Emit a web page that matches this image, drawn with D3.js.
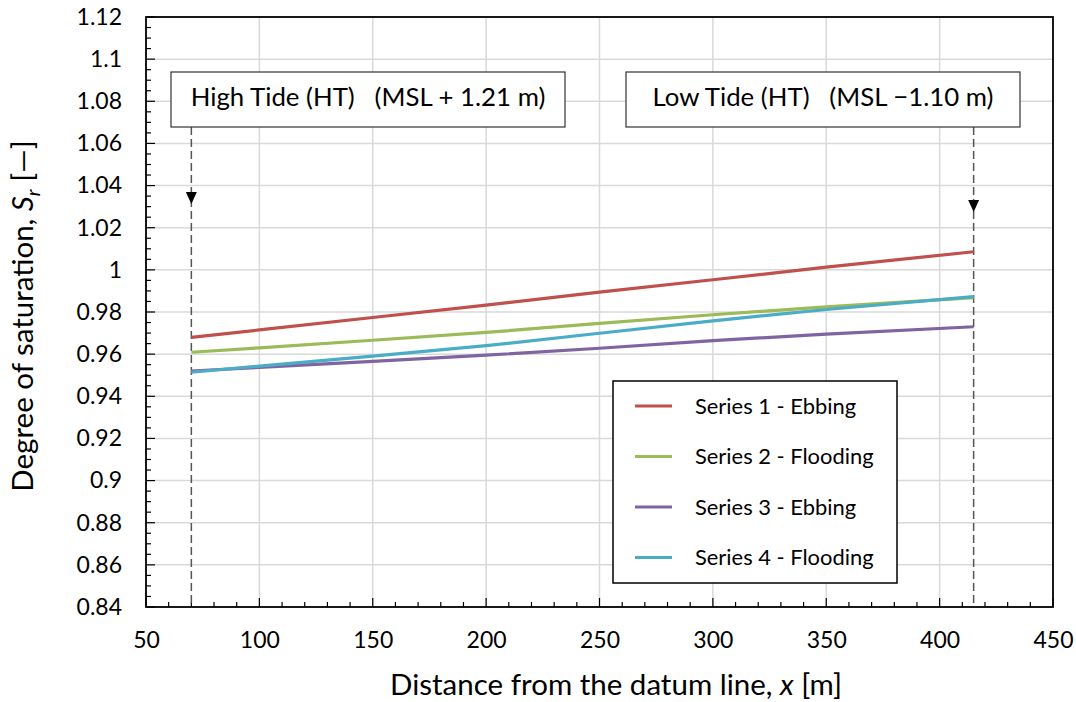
<!DOCTYPE html>
<html>
<head>
<meta charset="utf-8">
<script src="https://cdn.jsdelivr.net/npm/d3@7"></script>
<style>
  body { margin: 0; background: #fff; }
  svg { display: block; }
  text { font-family: Lato, "DejaVu Sans", sans-serif; fill: #000; }
</style>
</head>
<body>
<svg id="chart" width="1076" height="702"></svg>
<script>
// Distance along the section [m]
const distances = [70, 100, 150, 200, 250, 300, 350, 415];

// Degree of saturation for each series
const series1Ebbing   = [0.9680, 0.9715, 0.9774, 0.9833, 0.9894, 0.9953, 1.0013, 1.0086];
const series2Flooding = [0.9609, 0.9630, 0.9666, 0.9703, 0.9746, 0.9787, 0.9824, 0.9868];
const series3Ebbing   = [0.9520, 0.9537, 0.9566, 0.9595, 0.9628, 0.9664, 0.9695, 0.9730];
const series4Flooding = [0.9514, 0.9543, 0.9591, 0.9640, 0.9699, 0.9758, 0.9812, 0.9873];

const seriesNames = ["Series 1 - Ebbing", "Series 2 - Flooding", "Series 3 - Ebbing", "Series 4 - Flooding"];
const seriesColors = ["#C0504D", "#9BBB59", "#8064A2", "#4BACC6"];

const xTicks = [50, 100, 150, 200, 250, 300, 350, 400, 450];
const yTicks = [0.84, 0.86, 0.88, 0.9, 0.92, 0.94, 0.96, 0.98, 1, 1.02, 1.04, 1.06, 1.08, 1.1, 1.12];

// Tide markers: position and label
const tidePositions = [70, 415];
const tideLabels = ["High Tide (HT)   (MSL + 1.21 m)", "Low Tide (HT)   (MSL \u22121.10 m)"];
const tideArrowTips = [1.0313, 1.0275];

const svg = d3.select("#chart");
const plotL = 146, plotR = 1053, plotT = 17, plotB = 607;

const x = d3.scaleLinear().domain([50, 450]).range([plotL, plotR]);
const y = d3.scaleLinear().domain([0.84, 1.12]).range([plotB, plotT]);

// Gridlines
const grid = svg.append("g");
grid.selectAll("line.gx").data(xTicks.slice(1, -1)).join("line")
  .attr("x1", d => x(d)).attr("x2", d => x(d))
  .attr("y1", plotT).attr("y2", plotB)
  .attr("stroke", "#d9d9d9").attr("stroke-width", 1.5);
grid.selectAll("line.gy").data(yTicks.slice(1, -1)).join("line")
  .attr("y1", d => y(d)).attr("y2", d => y(d))
  .attr("x1", plotL).attr("x2", plotR)
  .attr("stroke", "#d9d9d9").attr("stroke-width", 1.5);

// Inward minor and major ticks
const ticksG = svg.append("g").attr("stroke", "#000").attr("stroke-width", 1.2);
const xMinor = d3.range(50, 451, 10);
ticksG.selectAll("line.xt").data(xMinor).join("line")
  .attr("x1", d => x(d)).attr("x2", d => x(d))
  .attr("y1", plotB).attr("y2", d => plotB - (d % 50 === 0 ? 9 : 5));
const yMinor = d3.range(0, 57).map(i => 0.84 + i * 0.005);
ticksG.selectAll("line.yt").data(yMinor).join("line")
  .attr("y1", d => y(d)).attr("y2", d => y(d))
  .attr("x1", plotL).attr("x2", (d, i) => plotL + (i % 4 === 0 ? 9 : 5));

// Axes labels via d3 axes (tick lines hidden)
const xAxis = svg.append("g").attr("transform", `translate(0,${plotB})`)
  .call(d3.axisBottom(x).tickValues(xTicks).tickSize(0).tickPadding(25).tickFormat(d3.format("d")));
xAxis.select(".domain").remove();
xAxis.selectAll("text").style("font-size", "23px").style("font-family", "Lato, sans-serif");

const yAxis = svg.append("g").attr("transform", `translate(${plotL},0)`)
  .call(d3.axisLeft(y).tickValues(yTicks).tickSize(0).tickPadding(24).tickFormat(d => String(+d.toFixed(2))));
yAxis.select(".domain").remove();
yAxis.selectAll("text").style("font-size", "23px").style("font-family", "Lato, sans-serif");

// Tide dashed markers
tidePositions.forEach((p, i) => {
  svg.append("line")
    .attr("x1", x(p)).attr("x2", x(p))
    .attr("y1", 127).attr("y2", plotB)
    .attr("stroke", "#555").attr("stroke-width", 1.5)
    .attr("stroke-dasharray", "8,4");
  const tip = y(tideArrowTips[i]);
  svg.append("path")
    .attr("d", `M${x(p) - 5.5},${tip - 12} L${x(p) + 5.5},${tip - 12} L${x(p)},${tip} Z`)
    .attr("fill", "#000");
});

// Series lines
const allSeries = [series1Ebbing, series2Flooding, series3Ebbing, series4Flooding];
const line = d3.line().x(d => x(d[0])).y(d => y(d[1]));
allSeries.forEach((vals, i) => {
  svg.append("path")
    .datum(distances.map((d, j) => [d, vals[j]]))
    .attr("d", line)
    .attr("fill", "none")
    .attr("stroke", seriesColors[i])
    .attr("stroke-width", 3.2);
});

// Plot border
svg.append("rect")
  .attr("x", plotL).attr("y", plotT).attr("width", plotR - plotL).attr("height", plotB - plotT)
  .attr("fill", "none").attr("stroke", "#000").attr("stroke-width", 1.8);

// Tide annotation boxes
const boxes = [{x0: 171, x1: 565}, {x0: 626, x1: 1020}];
boxes.forEach((b, i) => {
  svg.append("rect")
    .attr("x", b.x0).attr("y", 72).attr("width", b.x1 - b.x0).attr("height", 55)
    .attr("fill", "#fff").attr("stroke", "#333").attr("stroke-width", 1.2);
  svg.append("text")
    .attr("x", (b.x0 + b.x1) / 2).attr("y", 106)
    .attr("text-anchor", "middle")
    .style("font-size", "25.8px")
    .style("white-space", "pre")
    .attr("xml:space", "preserve")
    .text(tideLabels[i]);
});

// Legend
const lg = svg.append("g");
lg.append("rect").attr("x", 613).attr("y", 381).attr("width", 284).attr("height", 202)
  .attr("fill", "#fff").attr("stroke", "#000").attr("stroke-width", 1.5);
seriesNames.forEach((n, i) => {
  const yy = 406 + i * 50.5;
  lg.append("line").attr("x1", 635).attr("x2", 672).attr("y1", yy).attr("y2", yy)
    .attr("stroke", seriesColors[i]).attr("stroke-width", 3.2);
  lg.append("text").attr("x", 695).attr("y", yy + 7.5).style("font-size", "21.9px").text(n);
});

// Axis titles
svg.append("text")
  .attr("x", 616).attr("y", 695)
  .attr("text-anchor", "middle").style("font-size", "29.5px")
  .html('Distance from the datum line, <tspan font-style="italic">x</tspan> [m]');

svg.append("text")
  .attr("transform", "translate(33,316) rotate(-90)")
  .attr("text-anchor", "middle").style("font-size", "29.5px")
  .html('Degree of saturation, <tspan font-style="italic">S</tspan><tspan font-style="italic" font-size="20px" dy="7">r</tspan><tspan dy="-7"> [\u2014]</tspan>');
</script>
</body>
</html>
